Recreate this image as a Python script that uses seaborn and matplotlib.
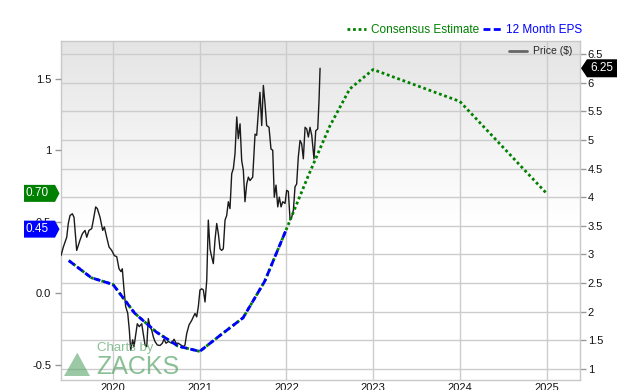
import matplotlib
matplotlib.use("Agg")
import matplotlib.pyplot as plt
import seaborn as sns
import numpy as np
import pandas as pd
from matplotlib.lines import Line2D
from matplotlib.patches import Polygon

# ---------------- data ----------------
price_years = [
    2019.400, 2019.427, 2019.466, 2019.484, 2019.504, 2019.531, 2019.550, 2019.581,
    2019.619, 2019.646, 2019.677, 2019.697, 2019.723, 2019.754, 2019.773, 2019.800,
    2019.819, 2019.850, 2019.881, 2019.900, 2019.927, 2019.954, 2019.985, 2020.015,
    2020.043, 2020.069, 2020.092, 2020.107, 2020.127, 2020.146, 2020.170, 2020.188,
    2020.204, 2020.227, 2020.242, 2020.280, 2020.303, 2020.331, 2020.349, 2020.369,
    2020.389, 2020.407, 2020.427, 2020.446, 2020.465, 2020.484, 2020.511, 2020.542,
    2020.569, 2020.588, 2020.611, 2020.638, 2020.677, 2020.704, 2020.727, 2020.753,
    2020.781, 2020.811, 2020.830, 2020.850, 2020.877, 2020.908, 2020.926, 2020.946,
    2020.965, 2020.984, 2021.003, 2021.023, 2021.042, 2021.061, 2021.081, 2021.099,
    2021.119, 2021.130, 2021.157, 2021.176, 2021.196, 2021.215, 2021.234, 2021.253,
    2021.272, 2021.292, 2021.311, 2021.330, 2021.349, 2021.369, 2021.388, 2021.407,
    2021.427, 2021.445, 2021.465, 2021.484, 2021.503, 2021.522, 2021.542, 2021.561,
    2021.580, 2021.611, 2021.638, 2021.657, 2021.676, 2021.695, 2021.715, 2021.734,
    2021.753, 2021.772, 2021.799, 2021.822, 2021.842, 2021.860, 2021.880, 2021.900,
    2021.918, 2021.938, 2021.957, 2021.984, 2022.003, 2022.022, 2022.042, 2022.061,
    2022.080, 2022.099, 2022.118, 2022.137, 2022.157, 2022.176, 2022.195, 2022.215,
    2022.234, 2022.253, 2022.272, 2022.292, 2022.318, 2022.338, 2022.361, 2022.376,
    2022.388,
]
price_values = [
    2.98, 3.13, 3.30, 3.54, 3.68, 3.71, 3.65, 3.07,
    3.25, 3.36, 3.42, 3.30, 3.42, 3.45, 3.60, 3.83,
    3.80, 3.65, 3.42, 3.48, 3.30, 3.13, 3.07, 2.98,
    2.96, 2.75, 2.70, 2.75, 2.38, 2.09, 1.97, 1.68,
    1.33, 1.51, 1.39, 1.79, 1.74, 1.79, 1.62, 1.42,
    1.39, 1.88, 1.74, 1.68, 1.56, 1.48, 1.42, 1.41,
    1.45, 1.52, 1.45, 1.48, 1.45, 1.52, 1.45, 1.45,
    1.42, 1.39, 1.42, 1.62, 1.77, 1.85, 1.91, 1.97,
    1.91, 2.09, 2.38, 2.40, 2.38, 2.17, 2.55, 3.60,
    3.10, 3.01, 2.84, 3.25, 3.54, 3.36, 3.10, 3.07,
    3.10, 3.60, 3.68, 3.92, 3.80, 4.41, 4.50, 4.76,
    5.40, 5.02, 5.28, 4.64, 4.47, 3.92, 4.23, 4.35,
    4.29, 4.35, 5.10, 5.08, 5.48, 5.83, 5.25, 5.95,
    5.63, 5.25, 5.22, 4.84, 4.82, 4.00, 4.21, 3.83,
    4.00, 3.83, 3.92, 3.89, 4.12, 4.10, 3.60, 3.65,
    3.77, 4.18, 4.23, 4.70, 4.99, 4.93, 4.67, 5.22,
    5.19, 5.05, 5.22, 5.08, 4.67, 5.16, 5.19, 5.69,
    6.25,
]

eps_years = [2019.49, 2019.75, 2020.00, 2020.25, 2020.50, 2020.75,
             2021.00, 2021.25, 2021.50, 2021.75, 2022.00]
eps_values = [0.23, 0.11, 0.063, -0.138, -0.27, -0.368,
              -0.405, -0.286, -0.17, 0.086, 0.45]

est_years = [2022.25, 2022.50, 2022.73, 2023.00, 2024.00, 2025.00]
est_values = [0.82, 1.17, 1.43, 1.566, 1.343, 0.70]

x_ticks = [2020, 2021, 2022, 2023, 2024, 2025]
x_tick_labels = ["2020", "2021", "2022", "2023", "2024", "2025"]
price_ticks = [1, 1.5, 2, 2.5, 3, 3.5, 4, 4.5, 5, 5.5, 6, 6.5]
price_tick_labels = ["1", "1.5", "2", "2.5", "3", "3.5", "4", "4.5", "5", "5.5", "6", "6.5"]
eps_ticks = [-0.5, 0.0, 0.5, 1.0, 1.5]
eps_tick_labels = ["-0.5", "0.0", "0.5", "1", "1.5"]

current_price = 6.25
current_eps = 0.45
next_estimate = 0.70

# ---------------- style ----------------
sns.set_theme(style="white")
plt.rcParams["font.family"] = ["Liberation Sans", "DejaVu Sans"]

W, H = 640, 390
fig = plt.figure(figsize=(W / 100, H / 100), dpi=100)
ax_l, ax_b, ax_w, ax_h = 61, 10, 519, 339.5
ax = fig.add_axes([ax_l / W, ax_b / H, ax_w / W, ax_h / H])

x_lo, x_hi = 2019.40, 2025.386
p_lo, p_hi = 0.808, 6.735
e_lo, e_hi = -0.605, 1.769

# gradient background
n = 256
t = np.linspace(0, 1, n)
top = 0.894
shade = np.where(t < 0.53, top + (1 - top) * (t / 0.53), 1.0)
grad = np.repeat(shade[:, None, None], 3, axis=2)
ax.imshow(grad, extent=[0, 1, 0, 1], transform=ax.transAxes, aspect="auto",
          zorder=0, interpolation="bilinear")

price_df = pd.DataFrame({"year": price_years, "price": price_values})
sns.lineplot(data=price_df, x="year", y="price", ax=ax, color="#1a1a1a",
             linewidth=1.0, sort=False, estimator=None, zorder=3)

# EPS axis (left) -- created before configuring the price axis ticks
ax2 = ax.twinx()
cons_df = pd.DataFrame({"year": eps_years + est_years,
                        "eps": eps_values + est_values})
eps_df = pd.DataFrame({"year": eps_years, "eps": eps_values})
sns.lineplot(data=cons_df, x="year", y="eps", ax=ax2, color="#008000",
             linewidth=2.0, linestyle=(0, (1, 1)), sort=False, estimator=None)
sns.lineplot(data=eps_df, x="year", y="eps", ax=ax2, color="#0000ff",
             linewidth=2.0, linestyle=(0, (2.5, 1.2)), sort=False, estimator=None)

# price axis config (right side)
ax.set_xlim(x_lo, x_hi)
ax.set_ylim(p_lo, p_hi)
ax.set_xticks(x_ticks, x_tick_labels)
ax.set_yticks(price_ticks, price_tick_labels)
ax.yaxis.tick_right()
ax.yaxis.set_label_position("right")
ax.set_xlabel("")
ax.set_ylabel("")
ax.grid(True, color="#cccccc", linewidth=1.0)
ax.set_axisbelow(True)
for sp in ax.spines.values():
    sp.set_color("#c8c8c8")
    sp.set_linewidth(1.0)
ax.tick_params(axis="y", right=True, left=False, labelright=True, labelleft=False,
               length=4, width=1, color="#999999", pad=1.5, labelsize=8,
               labelcolor="#111111")
ax.tick_params(axis="x", bottom=True, length=0, pad=2, labelsize=8,
               labelcolor="#111111")

# Price legend inside plot
ax.legend(handles=[Line2D([], [], color="#666666", linewidth=2)],
          labels=["Price ($)"], loc="center right",
          bbox_to_anchor=(0.985, 0.968), frameon=False, fontsize=7.5,
          handlelength=1.7, handletextpad=0.6, borderpad=0, borderaxespad=0)

# EPS axis config (left side)
ax2.set_xlim(x_lo, x_hi)
ax2.set_ylim(e_lo, e_hi)
ax2.yaxis.tick_left()
ax2.yaxis.set_label_position("left")
ax2.set_yticks(eps_ticks, eps_tick_labels)
ax2.set_ylabel("")
ax2.set_xlabel("")
ax2.grid(False)
for sp in ax2.spines.values():
    sp.set_visible(False)
ax2.tick_params(axis="y", left=True, right=False, labelleft=True, labelright=False,
                length=4.5, width=1, color="#999999", pad=2.5, labelsize=8,
                labelcolor="#111111")


def yfrac(v, lo, hi):
    return (ax_b + (v - lo) / (hi - lo) * ax_h) / H


def left_tag(v, color, label):
    yc = yfrac(v, e_lo, e_hi) * H
    verts = [(24, yc - 8.5), (55, yc - 8.5), (59.5, yc), (55, yc + 8.5), (24, yc + 8.5)]
    fig.add_artist(Polygon([(x / W, y / H) for x, y in verts], closed=True,
                           transform=fig.transFigure, facecolor=color,
                           edgecolor="none", zorder=5))
    fig.text(37.5 / W, yc / H, label, color="white", fontsize=8.5,
             ha="center", va="center", zorder=6)


left_tag(next_estimate, "#008000", f"{next_estimate:.2f}")
left_tag(current_eps, "#0000ff", f"{current_eps:.2f}")

yc = yfrac(current_price, p_lo, p_hi) * H
verts = [(581, yc), (587, yc - 9), (617, yc - 9), (617, yc + 9), (587, yc + 9)]
fig.add_artist(Polygon([(x / W, y / H) for x, y in verts], closed=True,
                       transform=fig.transFigure, facecolor="black",
                       edgecolor="none", zorder=5))
fig.text(602 / W, yc / H, f"{current_price:.2f}", color="white", fontsize=8.5,
         ha="center", va="center", zorder=6)

# Top legend
handles = [Line2D([], [], color="#008000", linewidth=2, linestyle=(0, (1, 1))),
           Line2D([], [], color="#0000ff", linewidth=2, linestyle=(0, (2.5, 1.2)))]
leg = fig.legend(handles, ["Consensus Estimate", "12 Month EPS"], loc="center",
                 bbox_to_anchor=(465 / W, 1 - 30 / H), ncol=2, frameon=False,
                 fontsize=8.5, handlelength=1.6, handletextpad=0.4,
                 columnspacing=0.3, borderpad=0)
for txt, c in zip(leg.get_texts(), ["#008000", "#0000ff"]):
    txt.set_color(c)

# Watermark
wm = "#5aa56a"
fig.add_artist(Polygon([(64 / W, 1 - 376 / H), (90 / W, 1 - 376 / H), (77.3 / W, 1 - 352.7 / H)],
                       closed=True, transform=fig.transFigure, facecolor=wm,
                       edgecolor="none", alpha=0.6, zorder=4))
fig.text(97 / W, 1 - 348 / H, "Charts by", fontsize=9.5, color=wm, alpha=0.7,
         ha="left", va="center")
fig.text(96 / W, 1 - 367 / H, "ZACKS", fontsize=18, color=wm, alpha=0.7,
         ha="left", va="center")

fig.savefig("out.png", dpi=100)
